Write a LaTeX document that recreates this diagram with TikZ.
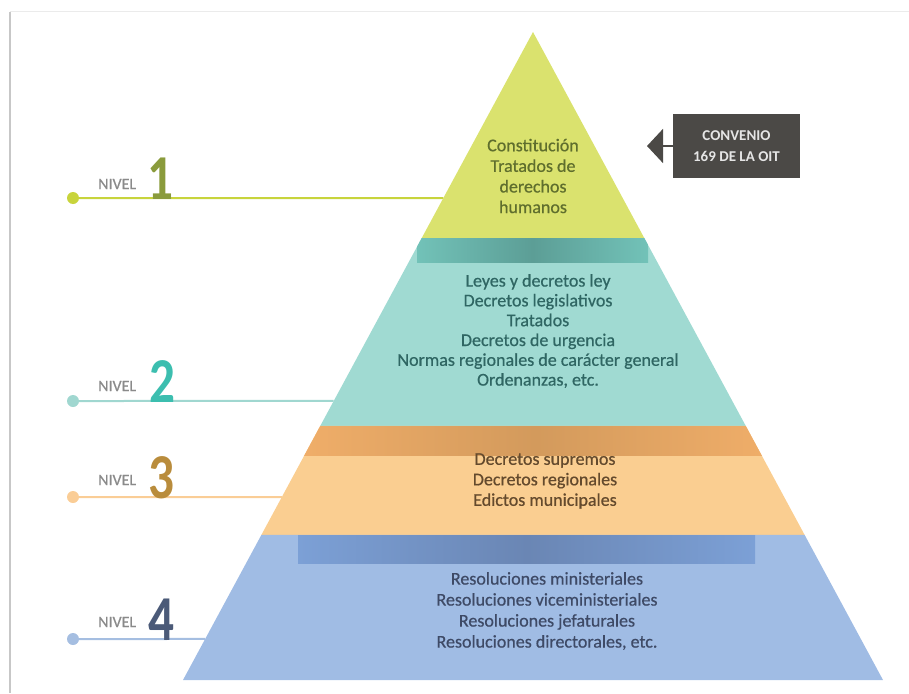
\documentclass[tikz,border=0pt]{standalone}
\usepackage{fontspec}
\setmainfont{Carlito}
\newfontfamily\gruesa[FakeBold=0.6]{Carlito}
\usepackage{graphicx}
\usepackage{tikz}
\usetikzlibrary{calc,arrows.meta}

\definecolor{amarillo}{HTML}{DAE26E}
\definecolor{turquesa}{HTML}{A0DAD2}
\definecolor{turquesaB}{HTML}{72C2B8}
\definecolor{turquesaS}{HTML}{5C9E96}
\definecolor{naranja}{HTML}{FACE91}
\definecolor{naranjaB}{HTML}{F6B26C}
\definecolor{naranjaS}{HTML}{D39A5C}
\definecolor{azul}{HTML}{A0BCE4}
\definecolor{azulB}{HTML}{7CA0D6}
\definecolor{azulS}{HTML}{6A86B4}
\definecolor{linea1}{HTML}{C8D43C}
\definecolor{linea2}{HTML}{A0D7D0}
\definecolor{linea3}{HTML}{FACD96}
\definecolor{linea4}{HTML}{A5BEE1}
\definecolor{num1}{HTML}{8A9B3C}
\definecolor{num2}{HTML}{3CBEAF}
\definecolor{num3}{HTML}{B98C3C}
\definecolor{num4}{HTML}{4B5A78}
\definecolor{texto1}{HTML}{5F6E2D}
\definecolor{texto2}{HTML}{2F6663}
\definecolor{texto3}{HTML}{644A2D}
\definecolor{texto4}{HTML}{3E4A66}
\definecolor{gristexto}{HTML}{8A8A8A}
\definecolor{griscaja}{HTML}{4B4946}

\begin{document}
\begin{tikzpicture}[
                x=1pt, y=-1pt,                % pixeles, y hacia abajo
                every node/.style={inner sep=0pt},
                tiertext/.style={align=center},
                nivel/.style={anchor=west, text=gristexto, font=\gruesa\fontsize{16}{16}\selectfont},
                numero/.style={anchor=south, font=\fontsize{64}{64}\selectfont\bfseries},
                punto/.style={circle, minimum size=12pt},
                linea/.style={line width=2pt}
            ]
                \useasboundingbox (0,0) rectangle (909,693);

                % marco
                \draw[black!22, line width=1.5pt] (10,693) -- (10,12);
                \draw[black!8, line width=1pt] (10,12) -- (909,12);

                % vertices y bordes
                \coordinate (A) at (533,32);
                \coordinate (BL) at (183,680);
                \coordinate (BR) at (883,680);
                \coordinate (L1) at ($(A)!0.3179!(BL)$);
                \coordinate (R1) at ($(A)!0.3179!(BR)$);
                \coordinate (L2) at ($(A)!0.6080!(BL)$);
                \coordinate (R2) at ($(A)!0.6080!(BR)$);
                \coordinate (L3) at ($(A)!0.7762!(BL)$);
                \coordinate (R3) at ($(A)!0.7762!(BR)$);

                % lineas de nivel
                \node[punto, fill=linea1] (p1) at (73,198) {};
                \node[punto, fill=linea2] (p2) at (73,401) {};
                \node[punto, fill=linea3] (p3) at (73,497) {};
                \node[punto, fill=linea4] (p4) at (73,639) {};
                \coordinate (e1) at ($(A)!0.2562!(BL)$);
                \coordinate (e2) at ($(A)!0.5694!(BL)$);
                \coordinate (e3) at ($(A)!0.7176!(BL)$);
                \coordinate (e4) at ($(A)!0.9367!(BL)$);
                \draw[linea, linea1] (p1) -- (e1);
                \draw[linea, linea2] (p2) -- (e2);
                \draw[linea, linea3] (p3) -- (e3);
                \draw[linea, linea4] (p4) -- (e4);

                % piramide
                \fill[amarillo] (A) -- (L1) -- (R1) -- cycle;
                \fill[turquesa] (L1) -- (L2) -- (R2) -- (R1) -- cycle;
                \fill[naranja] (L2) -- (L3) -- (R3) -- (R2) -- cycle;
                \fill[azul] (L3) -- (BL) -- (BR) -- (R3) -- cycle;
                \begin{scope}
                    \clip (A) -- (BL) -- (BR) -- cycle;
                    \shade[left color=turquesaB, right color=turquesaB, middle color=turquesaS] (417,238) rectangle (648,262);
                    \shade[left color=naranjaB, right color=naranjaB, middle color=naranjaS] (250,426) rectangle (820,455);
                    \shade[left color=azulB, right color=azulB, middle color=azulS] (298,535) rectangle (755,563);
                \end{scope}

                % textos
                \node[tiertext, text=texto1, font=\gruesa\fontsize{18}{20.6}\selectfont] (t1) at (533,176) {Constitución\\Tratados de\\derechos\\humanos};
                \node[tiertext, text=texto2, font=\gruesa\fontsize{18}{19.8}\selectfont] (t2) at (538,331) {Leyes y decretos ley\\Decretos legislativos\\Tratados\\Decretos de urgencia\\Normas regionales de carácter general\\Ordenanzas, etc.};
                \node[tiertext, text=texto3, font=\gruesa\fontsize{18}{20.5}\selectfont] (t3) at (545,481) {Decretos supremos\\Decretos regionales\\Edictos municipales};
                \node[tiertext, text=texto4, font=\gruesa\fontsize{18}{21}\selectfont] (t4) at (547,611) {Resoluciones ministeriales\\Resoluciones viceministeriales\\Resoluciones jefaturales\\Resoluciones directorales, etc.};

                % etiquetas
                \node[nivel] (n1) at (98,184) {NIVEL};
                \node[nivel] (n2) at (98,386) {NIVEL};
                \node[nivel] (n3) at (98,480) {NIVEL};
                \node[nivel] (n4) at (98,622) {NIVEL};
                \node[numero, text=num1] (d1) at (160,200) {\scalebox{0.8}[1]{1}};
                \node[numero, text=num2] (d2) at (162,403) {\scalebox{0.8}[1]{2}};
                \node[numero, text=num3] (d3) at (161,499) {\scalebox{0.8}[1]{3}};
                \node[numero, text=num4] (d4) at (161,641) {\scalebox{0.8}[1]{4}};

                % convenio
                \node[fill=griscaja, text=white!90!black, align=center,
                      font=\fontsize{15}{21}\selectfont\bfseries,
                      minimum width=127pt, minimum height=64pt] (conv) at (736.5,146) {CONVENIO\\169 DE LA OIT};
                \coordinate (flecha) at (647,146);
                \draw[griscaja, line width=1.5pt, -{Triangle[length=16pt, width=34pt]}] (conv.west) -- (flecha);
            \end{tikzpicture}
\end{document}
